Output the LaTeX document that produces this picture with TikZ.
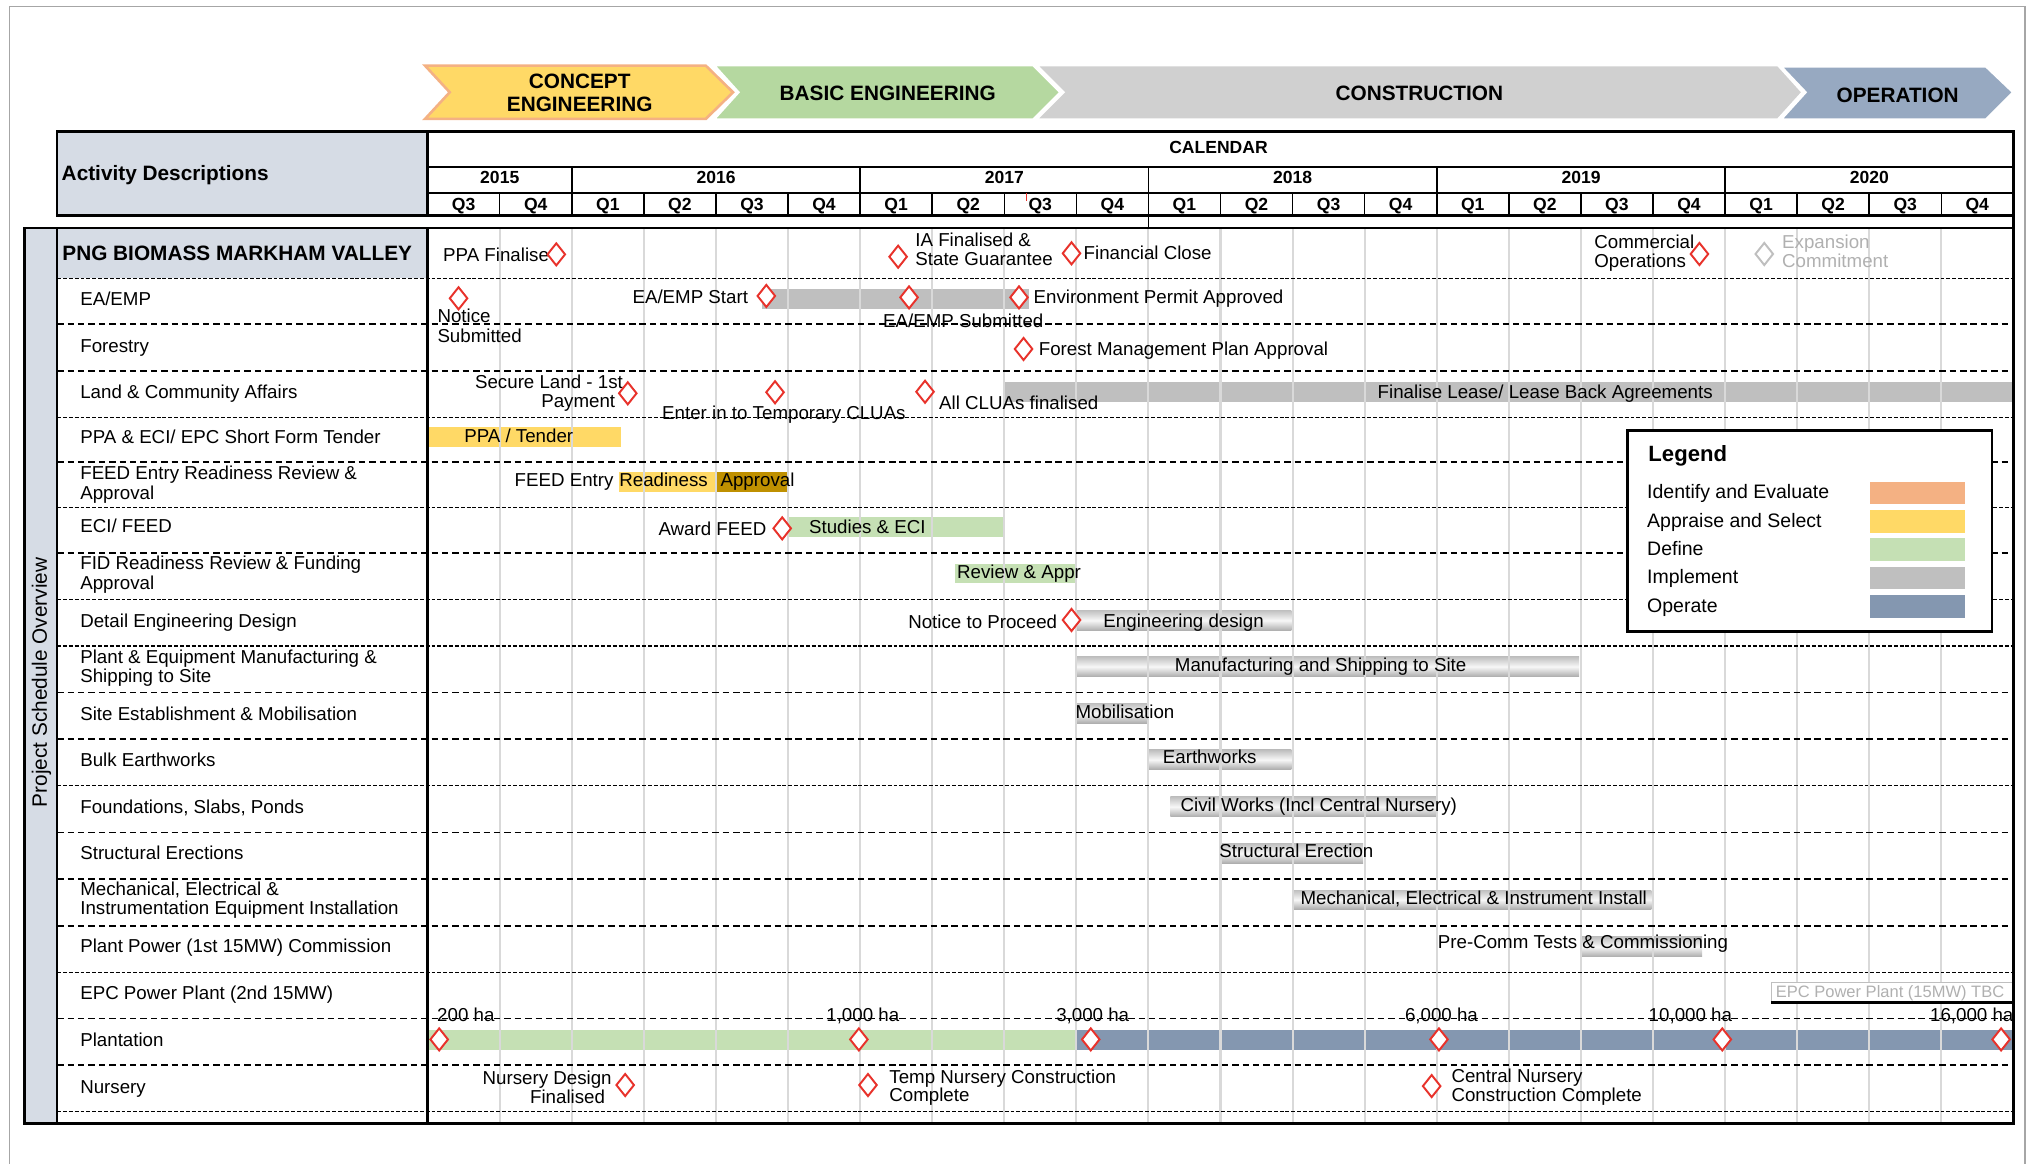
\documentclass[tikz,border=0pt]{standalone}
\usepackage{fontspec}
\setmainfont{Liberation Sans}
\usetikzlibrary{shapes.geometric}
\definecolor{hdrfill}{HTML}{D6DCE5}
\definecolor{cyel}{HTML}{FFD966}
\definecolor{corange}{HTML}{F4B183}
\definecolor{cgreen}{HTML}{C5E0B4}
\definecolor{cgray}{HTML}{BFBFBF}
\definecolor{cblue}{HTML}{8497B0}
\definecolor{cgold}{HTML}{BF9000}
\definecolor{chvgreen}{HTML}{B5D8A0}
\definecolor{chvgray}{HTML}{D0D0D0}
\definecolor{chvblue}{HTML}{97A9C1}
\definecolor{gridc}{HTML}{D9D9D9}
\definecolor{msred}{HTML}{E8322B}
\definecolor{frameg}{HTML}{A6A6A6}
\definecolor{txtg}{HTML}{B0B0B0}
\begin{document}
\begin{tikzpicture}[x=1pt,y=-1pt,
  every node/.style={inner sep=0pt,outer sep=0pt},
  f14/.style={font=\fontsize{14.4}{16}\selectfont},
  lab/.style={f14,anchor=base west},
  labr/.style={f14,anchor=base east},
  ms/.style={shape=diamond,draw=msred,fill=white,line width=1.5pt,minimum width=13.5pt,minimum height=17pt},
  msg/.style={ms,draw=cgray},
  shbar/.style={top color=gray!50,bottom color=gray!65,middle color=gray!6},
  gridl/.style={draw=gridc,line width=1.6pt},
  sepA/.style={draw=black,line width=1.3pt,dash pattern=on 5pt off 3pt},
  sepB/.style={draw=black,line width=0.8pt,dash pattern=on 3pt off 1.5pt},
  chv/.style={line width=2pt,line join=miter},
  chvt/.style={font=\fontsize{16}{18}\selectfont\bfseries,anchor=base},
  hd/.style={font=\fontsize{13.5}{15}\selectfont\bfseries,anchor=base},
  lg/.style={font=\fontsize{15}{17}\selectfont,anchor=base west},
]
\useasboundingbox (0,0) rectangle (1568,895);
% page frame
\draw[frameg,line width=1pt] (7.5,900) -- (7.5,5) -- (1558,5) -- (1558,900);

% phase chevrons
\path[chv,fill=cyel,draw=corange] (327,50.5) -- (543,50.5) -- (564,71) -- (543,91.5) -- (327,91.5) -- (346,71) -- cycle;
\path[chv,fill=chvgreen,draw=white] (549,50) -- (795,50) -- (816,71) -- (795,92) -- (549,92) -- (568,71) -- cycle;
\path[chv,fill=chvgray,draw=white] (797,50) -- (1368,50) -- (1387,71) -- (1368,92) -- (797,92) -- (818,71) -- cycle;
\path[chv,fill=chvblue,draw=white] (1370,51) -- (1528,51) -- (1549,71) -- (1528,92) -- (1370,92) -- (1389,71) -- cycle;
\node[chvt] (ph1a) at (446,68) {CONCEPT};
\node[chvt] (ph1b) at (446,86) {ENGINEERING};
\node[chvt] (ph2) at (683,77.5) {BASIC ENGINEERING};
\node[chvt] (ph3) at (1092,77.5) {CONSTRUCTION};
\node[chvt] (ph4) at (1460,79) {OPERATION};

% header
\path[fill=hdrfill] (44,101.3) rectangle (329,166);
\draw[line width=2pt] (44,101.3) rectangle (1549,166);
\draw[line width=2pt] (329,101.3) -- (329,166);
\draw[line width=1.4pt] (329,128.2) -- (1549,128.2);
\draw[line width=1.4pt] (329,148.5) -- (1549,148.5);
\foreach \x in {439.9,661.8,883.6,1105.5,1327.3} \draw[line width=1.4pt] (\x,128.2) -- (\x,166);
\foreach \k in {1,...,21} \draw[line width=1.1pt] ({329+55.4545*\k},148.5) -- ({329+55.4545*\k},166);
\draw[msred,line width=0.8pt] (790,148.5) -- (790,154.5);
\node[font=\fontsize{16}{18}\selectfont\bfseries,anchor=base west] (actd) at (47.5,138.8) {Activity Descriptions};
\node[hd] (cal) at (937.5,118.3) {CALENDAR};
\foreach \x/\yr in {384.5/2015,550.9/2016,772.7/2017,994.5/2018,1216.4/2019,1438.2/2020}
  \node[hd] (y\yr) at (\x,141.2) {\yr};
\foreach \k/\q in {0/3,1/4,2/1,3/2,4/3,5/4,6/1,7/2,8/3,9/4,10/1,11/2,12/3,13/4,14/1,15/2,16/3,17/4,18/1,19/2,20/3,21/4}
  \node[hd] (q\k) at ({329+55.4545*(\k+0.5)},161.7) {Q\q};
\draw[line width=1.2pt] (883.6,166) -- (883.6,175.5);
\draw[line width=2pt] (1549,166) -- (1549,175.5);

% body fills
\path[fill=hdrfill] (19,175.5) rectangle (44,864.3);
\path[fill=hdrfill] (44,175.5) rectangle (329,214);

% bars
\fill[cgray] (586.4,222.4) rectangle (791.4,237.5);
\fill[cgray] (773,294.2) rectangle (1548,309);
\fill[cyel] (329.8,328.8) rectangle (477.4,343.7);
\fill[cyel] (476.2,363.4) rectangle (550,378.3);
\fill[cgold] (551.1,363.4) rectangle (605.3,378.3);
\fill[cgreen] (605.7,398) rectangle (771.7,413);
\fill[cgreen] (734.9,434) rectangle (827.5,448.8);
\shade[shbar] (827.5,469.4) rectangle (993.5,485.2);
\shade[shbar] (827.5,505.2) rectangle (1215,520.6);
\shade[shbar] (827.5,541) rectangle (883,556.5);
\shade[shbar] (883.7,577) rectangle (993.5,592);
\shade[shbar] (900.5,613) rectangle (1105.2,628.4);
\shade[shbar] (938.2,648.9) rectangle (1048.7,664.2);
\shade[shbar] (994.8,684.8) rectangle (1270.6,699.6);
\shade[shbar] (1217,720.7) rectangle (1309.5,736.1);
\fill[cgreen] (329,792.5) rectangle (828,807.9);
\fill[cblue] (828,792.5) rectangle (1549,807.9);

% grid lines
\foreach \k in {1,...,21} \draw[gridl] ({329+55.4545*\k},176) -- ({329+55.4545*\k},864);

% row separators
\foreach \y in {249.3,285.2,355.7,425.2,532.7,568.6,640.4,676.3,712.2,783.5,819.4} \draw[sepA] (44,\y) -- (1549,\y);
\foreach \y in {214,321,390.4,461.1,497,604.5,748.1,855.3} \draw[sepB] (44,\y) -- (1549,\y);

% EPC TBC box
\fill[white] (1362.8,756) rectangle (1548.7,771.2);
\draw[cgray,line width=0.8pt] (1362.8,771.2) -- (1362.8,756) -- (1548.7,756);
\draw[line width=1.8pt] (1362.8,771.2) -- (1548.7,771.2);
\node[font=\fontsize{12.7}{14}\selectfont,anchor=base west,text=txtg] (epc) at (1366.3,767.5) {EPC Power Plant (15MW) TBC};

% borders
\draw[line width=2pt] (19,175.5) rectangle (1549,864.3);
\draw[line width=1.5pt] (44,175.5) -- (44,864.3);
\draw[line width=2pt] (329,175.5) -- (329,864.3);

% side title
\node[rotate=90,font=\fontsize{16}{18}\selectfont] (side) at (32,525) {Project Schedule Overview};

% row labels
\node[font=\fontsize{16}{18}\selectfont\bfseries,anchor=base west] (l0) at (48,200.6) {PNG BIOMASS MARKHAM VALLEY};
\node[lab] (l1) at (61.8,235) {EA/EMP};
\node[lab] (l2) at (61.8,271.2) {Forestry};
\node[lab] (l3) at (61.8,306.3) {Land \& Community Affairs};
\node[lab] (l4) at (61.8,341) {PPA \& ECI/ EPC Short Form Tender};
\node[lab] (l5a) at (61.8,369.2) {FEED Entry Readiness Review \&};
\node[lab] (l5b) at (61.8,384.6) {Approval};
\node[lab] (l6) at (61.8,410) {ECI/ FEED};
\node[lab] (l7a) at (61.8,438.4) {FID Readiness Review \& Funding};
\node[lab] (l7b) at (61.8,453.8) {Approval};
\node[lab] (l8) at (61.8,482.8) {Detail Engineering Design};
\node[lab] (l9a) at (61.8,510.2) {Plant \& Equipment Manufacturing \&};
\node[lab] (l9b) at (61.8,525.1) {Shipping to Site};
\node[lab] (l10) at (61.8,554.4) {Site Establishment \& Mobilisation};
\node[lab] (l11) at (61.8,589.8) {Bulk Earthworks};
\node[lab] (l12) at (61.8,625.7) {Foundations, Slabs, Ponds};
\node[lab] (l13) at (61.8,661) {Structural Erections};
\node[lab] (l14a) at (61.8,689) {Mechanical, Electrical \&};
\node[lab] (l14b) at (61.8,703.9) {Instrumentation Equipment Installation};
\node[lab] (l15) at (61.8,732.9) {Plant Power (1st 15MW) Commission};
\node[lab] (l16) at (61.8,769.3) {EPC Power Plant (2nd 15MW)};
\node[lab] (l17) at (61.8,805.2) {Plantation};
\node[lab] (l18) at (61.8,841.1) {Nursery};

% row 0
\node[lab] (t0a) at (341,201.2) {PPA Finalise};
\node[ms] (m0a) at (428,195.7) {};
\node[ms] (m0b) at (691,197.5) {};
\node[lab] (t0b1) at (704.3,189.7) {IA Finalised \&};
\node[lab] (t0b2) at (704.3,204.3) {State Guarantee};
\node[ms] (m0c) at (824.4,194.9) {};
\node[lab] (t0c) at (833.8,199.9) {Financial Close};
\node[lab] (t0d1) at (1226.7,191) {Commercial};
\node[lab] (t0d2) at (1226.7,205.6) {Operations};
\node[ms] (m0d) at (1307.5,195.4) {};
\node[msg] (m0e) at (1357.4,195.4) {};
\node[lab,text=txtg] (t0e1) at (1371.2,191) {Expansion};
\node[lab,text=txtg] (t0e2) at (1371.2,205.6) {Commitment};

% row 1
\node[ms] (m1a) at (352.8,229.5) {};
\node[lab] (t1a1) at (336.6,248.1) {Notice};
\node[lab] (t1a2) at (336.6,263.3) {Submitted};
\node[labr] (t1b) at (575.5,233.8) {EA/EMP Start};
\node[ms] (m1b) at (589.6,227.7) {};
\node[ms] (m1c) at (699.4,228.8) {};
\node[lab] (t1c) at (679.5,252) {EA/EMP Submitted};
\node[ms] (m1d) at (784,228.8) {};
\node[lab] (t1d) at (795.3,233.8) {Environment Permit Approved};

% row 2
\node[ms] (m2a) at (787.5,268.5) {};
\node[lab] (t2a) at (799.3,273.5) {Forest Management Plan Approval};

% row 3
\node[labr] (t3a1) at (479.2,298.7) {Secure Land - 1st};
\node[labr] (t3a2) at (473.3,313.5) {Payment};
\node[ms] (m3a) at (483,302.6) {};
\node[ms] (m3b) at (596.3,301.8) {};
\node[lab] (t3b) at (509.5,323) {Enter in to Temporary CLUAs};
\node[ms] (m3c) at (711.7,301.4) {};
\node[lab] (t3c) at (722.6,315.3) {All CLUAs finalised};
\node[lab] (t3d) at (1060,306.3) {Finalise Lease/ Lease Back Agreements};

% row 4-7
\node[lab] (t4) at (357.2,340.5) {PPA / Tender};
\node[lab] (t5a) at (396,374.3) {FEED Entry};
\node[lab] (t5b) at (476.5,374.3) {Readiness};
\node[lab] (t5c) at (554.4,374.3) {Approval};
\node[labr] (t6a) at (589.6,412.3) {Award FEED};
\node[ms] (m6a) at (601.8,406.5) {};
\node[lab] (t6b) at (622.5,410.7) {Studies \& ECI};
\node[lab] (t7) at (736.4,444.9) {Review \& Appr};

% row 8-15
\node[labr] (t8a) at (813.3,483.3) {Notice to Proceed};
\node[ms] (m8a) at (824.4,477) {};
\node[lab] (t8b) at (849,482.8) {Engineering design};
\node[lab] (t9) at (904,516.7) {Manufacturing and Shipping to Site};
\node[lab] (t10) at (827.5,552.6) {Mobilisation};
\node[lab] (t11) at (894.7,587.2) {Earthworks};
\node[lab] (t12) at (908.4,624.4) {Civil Works (Incl Central Nursery)};
\node[lab] (t13) at (938.2,659.5) {Structural Erection};
\node[lab] (t14) at (1000.6,695.7) {Mechanical, Electrical \& Instrument Install};
\node[lab] (t15) at (1106.3,729.5) {Pre-Comm Tests \& Commissioning};

% row 17 plantation
\node[lab] (h1) at (336.4,786) {200 ha};
\node[lab] (h2) at (635.8,786) {1,000 ha};
\node[lab] (h3) at (812.7,786) {3,000 ha};
\node[lab] (h4) at (1081,786) {6,000 ha};
\node[lab] (h5) at (1268.5,786) {10,000 ha};
\node[lab] (h6) at (1485,786) {16,000 ha};
\node[ms] (m17a) at (337.9,799.7) {};
\node[ms] (m17b) at (660.8,799.7) {};
\node[ms] (m17c) at (839.2,799.7) {};
\node[ms] (m17d) at (1107.1,799.7) {};
\node[ms] (m17e) at (1325.1,799.7) {};
\node[ms] (m17f) at (1539.6,799.7) {};

% row 18 nursery
\node[labr] (t18a1) at (470.6,834.7) {Nursery Design};
\node[labr] (t18a2) at (465.5,848.8) {Finalised};
\node[ms] (m18a) at (481,834.8) {};
\node[ms] (m18b) at (667.8,834.8) {};
\node[lab] (t18b1) at (684.3,833.4) {Temp Nursery Construction};
\node[lab] (t18b2) at (684.3,847.5) {Complete};
\node[ms] (m18c) at (1101.5,835.6) {};
\node[lab] (t18c1) at (1116.8,832.9) {Central Nursery};
\node[lab] (t18c2) at (1116.8,847.5) {Construction Complete};

% legend
\node[draw,line width=2pt,fill=white,minimum width=280.5pt,minimum height=155pt,anchor=north west] (legend) at (1252,331) {};
\node[font=\fontsize{17}{19}\selectfont\bfseries,anchor=base west] (lgt) at (1268.3,354.9) {Legend};
\node[lg] (lg1) at (1267.3,383.7) {Identify and Evaluate};
\node[lg] (lg2) at (1267.3,405.5) {Appraise and Select};
\node[lg] (lg3) at (1267.3,427.3) {Define};
\node[lg] (lg4) at (1267.3,449.1) {Implement};
\node[lg] (lg5) at (1267.3,470.9) {Operate};
\fill[corange] (1439,370.6) rectangle (1512,387.8);
\fill[cyel] (1439,392.4) rectangle (1512,409.8);
\fill[cgreen] (1439,414.2) rectangle (1512,431.5);
\fill[cgray] (1439,436.5) rectangle (1512,453.4);
\fill[cblue] (1439,457.8) rectangle (1512,475.2);
\end{tikzpicture}
\end{document}
